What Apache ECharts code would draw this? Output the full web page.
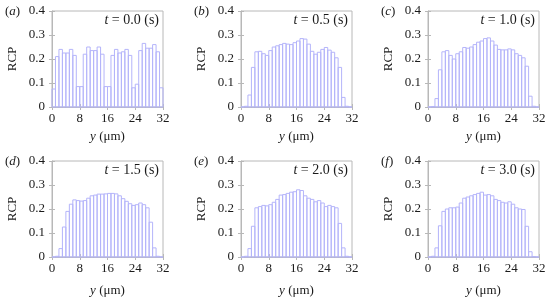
<!DOCTYPE html>
<html>
<head>
<meta charset="utf-8">
<script src="https://cdn.jsdelivr.net/npm/echarts@6/dist/echarts.min.js"></script>
<style>
  html, body { margin: 0; padding: 0; background: #fff; }
  #chart { width: 550px; height: 301px; }
</style>
</head>
<body>
<div id="chart"></div>
<script>
// bin left edges (um), each bin is 1 um wide
const binStarts = [0, 1, 2, 3, 4, 5, 6, 7, 8, 9, 10, 11, 12, 13, 14, 15,
  16, 17, 18, 19, 20, 21, 22, 23, 24, 25, 26, 27, 28, 29, 30, 31];
const binWidth = 1;

const panelTags = ['a', 'b', 'c', 'd', 'e', 'f'];
const timeLabels = ['0.0', '0.5', '1.0', '1.5', '2.0', '3.0'];

const rcpT00 = [0.075, 0.21, 0.24, 0.225, 0.225, 0.24, 0.215, 0.085, 0.085, 0.22, 0.25, 0.235, 0.235, 0.25, 0.22, 0.085,
  0.085, 0.215, 0.24, 0.225, 0.23, 0.24, 0.215, 0.08, 0.095, 0.235, 0.265, 0.245, 0.245, 0.26, 0.23, 0.08];
const rcpT05 = [0, 0.003, 0.05, 0.165, 0.23, 0.232, 0.222, 0.215, 0.235, 0.25, 0.255, 0.26, 0.265, 0.262, 0.26, 0.268,
  0.275, 0.285, 0.283, 0.262, 0.232, 0.22, 0.228, 0.24, 0.248, 0.237, 0.228, 0.205, 0.165, 0.04, 0.003, 0];
const rcpT10 = [0, 0.002, 0.035, 0.155, 0.23, 0.235, 0.215, 0.2, 0.222, 0.23, 0.248, 0.245, 0.25, 0.26, 0.27, 0.275,
  0.285, 0.288, 0.275, 0.258, 0.24, 0.238, 0.238, 0.242, 0.238, 0.222, 0.215, 0.205, 0.17, 0.045, 0.003, 0];
const rcpT15 = [0, 0.003, 0.035, 0.125, 0.19, 0.22, 0.238, 0.235, 0.233, 0.235, 0.245, 0.255, 0.258, 0.262, 0.262, 0.263,
  0.265, 0.265, 0.263, 0.255, 0.243, 0.232, 0.222, 0.215, 0.218, 0.225, 0.218, 0.205, 0.145, 0.038, 0.003, 0];
const rcpT20 = [0, 0.003, 0.035, 0.128, 0.205, 0.21, 0.215, 0.213, 0.218, 0.228, 0.24, 0.258, 0.26, 0.265, 0.27, 0.272,
  0.28, 0.277, 0.255, 0.245, 0.24, 0.23, 0.235, 0.225, 0.21, 0.215, 0.21, 0.205, 0.14, 0.038, 0.003, 0];
const rcpT30 = [0, 0.003, 0.038, 0.13, 0.19, 0.2, 0.205, 0.205, 0.208, 0.225, 0.245, 0.25, 0.255, 0.26, 0.265, 0.27,
  0.258, 0.26, 0.255, 0.24, 0.235, 0.228, 0.225, 0.23, 0.22, 0.205, 0.2, 0.198, 0.128, 0.022, 0.002, 0];

const allSeries = [rcpT00, rcpT05, rcpT10, rcpT15, rcpT20, rcpT30];

// layout of the 6 panels
const colLeft = [52, 241, 428];
const rowTop = [11, 161];
const plotW = 111;
const plotH = 96;

const serif = "'Liberation Serif', 'DejaVu Serif', serif";
const fs = 13;
const textColor = '#1a1a1a';
const frameColor = '#b8b8b8';
const barColor = '#b4b4fa';

let myChart = echarts.init(document.getElementById('chart'));

let grids = [], xAxes = [], yAxes = [], series = [], titles = [];
const italic = { i: { fontFamily: serif, fontStyle: 'italic', fontSize: fs, color: textColor } };
const italicBig = { i: { fontFamily: serif, fontStyle: 'italic', fontSize: 14, color: textColor } };

allSeries.forEach((vals, i) => {
  const col = i % 3, row = Math.floor(i / 3);
  grids.push({
    left: colLeft[col], top: rowTop[row], width: plotW, height: plotH,
    show: true, borderColor: frameColor, borderWidth: 1
  });
  const tickStyle = { show: true, inside: true, length: 3, lineStyle: { color: frameColor } };
  // bottom x axis with labels
  xAxes.push({
    gridIndex: i, type: 'value', min: 0, max: 32, interval: 8, position: 'bottom',
    axisLine: { show: true, lineStyle: { color: frameColor } },
    axisTick: tickStyle,
    splitLine: { show: false },
    axisLabel: { margin: 5, fontFamily: serif, fontSize: fs, color: textColor },
    name: '{i|y} (μm)', nameLocation: 'middle', nameGap: row === 0 ? 23 : 27,
    nameTextStyle: { fontFamily: serif, fontSize: fs, color: textColor, rich: italic }
  });
  // mirrored top axis, ticks only
  xAxes.push({
    gridIndex: i, type: 'value', min: 0, max: 32, interval: 8, position: 'top',
    axisLine: { show: false }, axisTick: tickStyle, axisLabel: { show: false }, splitLine: { show: false }
  });
  yAxes.push({
    gridIndex: i, type: 'value', min: 0, max: 0.4, interval: 0.1, position: 'left',
    axisLine: { show: true, lineStyle: { color: frameColor } },
    axisTick: tickStyle,
    splitLine: { show: false },
    axisLabel: {
      margin: 7, fontFamily: serif, fontSize: fs, color: textColor,
      formatter: v => (v === 0 ? '0' : v.toFixed(1))
    },
    name: 'RCP', nameLocation: 'middle', nameGap: 33, nameRotate: 90,
    nameTextStyle: { fontFamily: serif, fontSize: fs, color: textColor }
  });
  yAxes.push({
    gridIndex: i, type: 'value', min: 0, max: 0.4, interval: 0.1, position: 'right',
    axisLine: { show: false }, axisTick: tickStyle, axisLabel: { show: false }, splitLine: { show: false }
  });

  series.push({
    type: 'custom',
    xAxisIndex: i * 2, yAxisIndex: i * 2,
    data: binStarts.map((b, k) => [b, vals[k]]),
    silent: true,
    renderItem: function (params, api) {
      const x0 = api.value(0);
      const v = api.value(1);
      const p0 = api.coord([x0, 0]);
      const p1 = api.coord([x0 + binWidth, v]);
      return {
        type: 'rect',
        shape: { x: p0[0], y: p1[1], width: p1[0] - p0[0], height: p0[1] - p1[1] },
        style: { fill: 'rgba(0,0,0,0)', stroke: barColor, lineWidth: 1 }
      };
    }
  });

  // panel tag like (a)
  titles.push({
    text: '({i|' + panelTags[i] + '})',
    left: colLeft[col] - 47, top: rowTop[row] - 6, padding: 0,
    textStyle: { fontFamily: serif, fontSize: fs, fontWeight: 'normal', color: textColor, rich: italic }
  });
  // time label inside the plot
  titles.push({
    text: '{i|t} = ' + timeLabels[i] + ' (s)',
    right: 550 - (colLeft[col] + plotW) + 4, top: rowTop[row] + 2, padding: 0,
    textStyle: { fontFamily: serif, fontSize: 14, fontWeight: 'normal', color: textColor, rich: italicBig }
  });
});

myChart.setOption({
  animation: false,
  backgroundColor: '#fff',
  title: titles,
  grid: grids,
  xAxis: xAxes,
  yAxis: yAxes,
  series: series
});
</script>
</body>
</html>
